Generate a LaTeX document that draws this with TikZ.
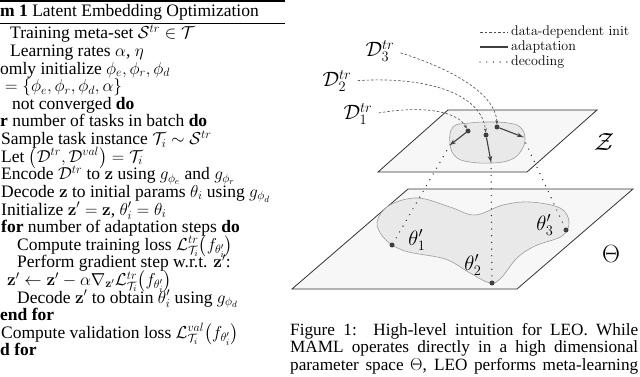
\documentclass[tikz,border=0pt]{standalone}
\usepackage[no-math]{fontspec}
\setmainfont{Liberation Serif}
\usepackage{amsmath}
\usepackage{amssymb}
\usetikzlibrary{arrows.meta}
\definecolor{planefill}{HTML}{F7F7F7}
\definecolor{blobfill}{HTML}{E9E9E9}
\definecolor{blobline}{HTML}{9C9C9C}

\begin{document}
\begin{tikzpicture}[
    x=1pt, y=-1pt,
    alg/.style={anchor=base west, inner sep=0pt, font=\fontsize{17.5}{17.6}\selectfont},
    figcap/.style={anchor=base west, inner sep=0pt, font=\fontsize{17.2}{18.6}\selectfont},
    lgd/.style={anchor=west, inner sep=0pt, font=\fontfamily{lmr}\fontsize{14}{16}\selectfont},
    lbl/.style={inner sep=0pt, font=\fontsize{20}{24}\selectfont},
    spacelbl/.style={inner sep=0pt, font=\fontsize{23}{27}\selectfont},
    plane/.style={draw=black!80, fill=planefill, line width=0.8pt},
    blob/.style={draw=blobline, fill=blobfill, line width=0.6pt},
    dotpt/.style={circle, fill=black!75, inner sep=0pt, minimum size=5pt},
    initline/.style={dash pattern=on 2.5pt off 2pt, black!70, line width=0.6pt},
    init/.style={initline, -{Stealth[length=4pt,width=3pt]}},
    adaptline/.style={black!75, line width=1.1pt},
    adapt/.style={adaptline, -{Stealth[length=6pt,width=4.5pt]}},
    decode/.style={black!85, line width=1.4pt, line cap=round, dash pattern=on 0pt off 6.7pt},
    hrule/.style={black, line width=#1}
]
    \fill[white] (0,0) rectangle (640,377);
    \useasboundingbox (0,0) rectangle (640,377);

    % algorithm column
    \draw[hrule=1.8pt] (0,1) -- (285,1);
    \draw[hrule=1pt]   (0,24) -- (285,24);
    \node[alg] (h0)  at (0,17)    {\textbf{m 1} Latent Embedding Optimization};
    \node[alg] (r1)  at (10,39)   {Training meta-set $\mathcal{S}^{tr}\in\mathcal{T}$};
    \node[alg] (r2)  at (10,56.6) {Learning rates $\alpha$, $\eta$};
    \node[alg] (r3)  at (0,74.2)  {omly initialize $\phi_e,\phi_r,\phi_d$};
    \node[alg] (r4)  at (5,91.8)  {$=\{\phi_e,\phi_r,\phi_d,\alpha\}$};
    \node[alg] (r5)  at (12,109.4){not converged \textbf{do}};
    \node[alg] (r6)  at (0,127)   {\textbf{r} number of tasks in batch \textbf{do}};
    \node[alg] (r7)  at (1,144.6) {Sample task instance $\mathcal{T}_i\sim\mathcal{S}^{tr}$};
    \node[alg] (r8)  at (1,162.2) {Let $\big(\mathcal{D}^{tr},\mathcal{D}^{val}\big)=\mathcal{T}_i$};
    \node[alg] (r9)  at (1,179.8) {Encode $\mathcal{D}^{tr}$ to $\mathbf{z}$ using $g_{\phi_e}$ and $g_{\phi_r}$};
    \node[alg] (r10) at (1,197.4) {Decode $\mathbf{z}$ to initial params $\theta_i$ using $g_{\phi_d}$};
    \node[alg] (r11) at (1,215)   {Initialize $\mathbf{z}'=\mathbf{z}$, $\theta_i'=\theta_i$};
    \node[alg] (r12) at (1,232.6) {\textbf{for} number of adaptation steps \textbf{do}};
    \node[alg] (r13) at (17,250.2){Compute training loss $\mathcal{L}^{tr}_{\mathcal{T}_i}\big(f_{\theta_i'}\big)$};
    \node[alg] (r14) at (17,267.8){Perform gradient step w.r.t. $\mathbf{z}'$:};
    \node[alg] (r15) at (7,285.4) {$\mathbf{z}'\leftarrow\mathbf{z}'-\alpha\nabla_{\mathbf{z}'}\mathcal{L}^{tr}_{\mathcal{T}_i}\big(f_{\theta_i'}\big)$};
    \node[alg] (r16) at (17,303)  {Decode $\mathbf{z}'$ to obtain $\theta_i'$ using $g_{\phi_d}$};
    \node[alg] (r17) at (0,320.6) {\textbf{end for}};
    \node[alg] (r18) at (1,338.2) {Compute validation loss $\mathcal{L}^{val}_{\mathcal{T}_i}\big(f_{\theta_i'}\big)$};
    \node[alg] (r19) at (0,355.8) {\textbf{d for}};

    % legend
    \node[lgd] (lg1) at (511,32) {data-dependent init};
    \node[lgd] (lg2) at (511,47) {adaptation};
    \node[lgd] (lg3) at (511,62) {decoding};
    \draw[initline]   ([xshift=-31pt]lg1.west) -- ([xshift=-3pt]lg1.west);
    \draw[adaptline]  ([xshift=-31pt]lg2.west) -- ([xshift=-3pt]lg2.west);
    \draw[decode]     ([xshift=-31pt]lg3.west) -- ([xshift=-3pt]lg3.west);

    % planes and regions
    \draw[plane] (448,110) -- (597,110) -- (527,172) -- (378,172) -- cycle;
    \draw[plane] (408,189) -- (633,189) -- (517,289) -- (292,289) -- cycle;
    \draw[blob] plot[smooth cycle, tension=0.7] coordinates {(453,127) (470,123) (490,122) (508,123) (520,127) (525,138) (521,151) (510,160) (492,163) (470,162) (456,157) (450,144)};
    \draw[blob] plot[smooth cycle, tension=0.6] coordinates {(377,222) (390,205) (418,198) (450,207) (475,215) (503,205) (530,202) (560,208) (569,222) (562,236) (535,246) (517,258) (501,278) (490,283) (470,273) (445,259) (405,251) (385,239)};

    \node[spacelbl] (zs) at (604,142) {$\mathcal{Z}$};
    \node[spacelbl] (ts) at (611,254) {$\Theta$};

    % task data
    \node[lbl] (d3) at (380,51)  {$\mathcal{D}_3^{tr}$};
    \node[lbl] (d2) at (337,81)  {$\mathcal{D}_2^{tr}$};
    \node[lbl] (d1) at (358,114) {$\mathcal{D}_1^{tr}$};

    % latent codes and parameters
    \node[dotpt] (z1) at (468,131) {};
    \node[dotpt] (z2) at (486,135) {};
    \node[dotpt] (z3) at (497,127) {};
    \coordinate (a1) at (450,145);
    \coordinate (a2) at (491,162);
    \coordinate (a3) at (523,137);
    \node[dotpt] (t1) at (392,245) {};
    \node[dotpt] (t2) at (492,283) {};
    \node[dotpt] (t3) at (566,230) {};
    \node[lbl] (l1) at (417,240) {$\theta_1'$};
    \node[lbl] (l2) at (473,265) {$\theta_2'$};
    \node[lbl] (l3) at (545,225) {$\theta_3'$};

    \draw[init, shorten <=6pt] (d3.east) .. controls (455,70) and (496,95) .. (z3);
    \draw[init, shorten <=6pt] (d2.east) .. controls (430,76) and (482,95) .. (z2);
    \draw[init, shorten <=6pt] (d1.east) .. controls (425,105) and (458,112) .. (z1);
    \draw[adapt] (z1) -- (a1);
    \draw[adapt] (z2) -- (a2);
    \draw[adapt] (z3) -- (a3);
    \draw[decode] (a1) -- (t1);
    \draw[decode] (a2) -- (t2);
    \draw[decode] (a3) -- (t3);

    % caption
    \node[figcap] (c1) at (290,335)   {\makebox[348pt][s]{Figure 1:\ \ High-level intuition for LEO. While}};
    \node[figcap] (c2) at (290,352.5) {\makebox[348pt][s]{MAML operates directly in a high dimensional}};
    \node[figcap] (c3) at (290,370)   {\makebox[348pt][s]{parameter space $\Theta$, LEO performs meta-learning}};
\end{tikzpicture}
\end{document}
